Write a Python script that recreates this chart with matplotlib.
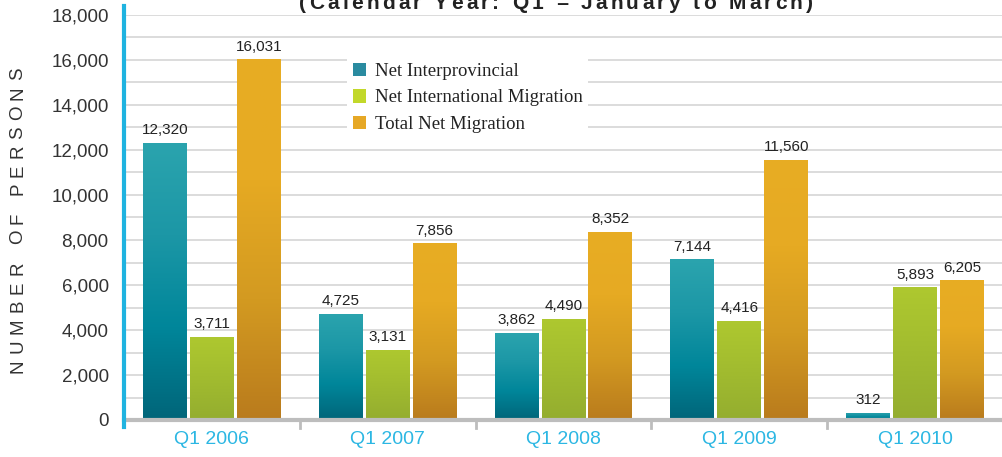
import matplotlib
matplotlib.use("Agg")
import matplotlib.pyplot as plt
import numpy as np
from matplotlib.colors import LinearSegmentedColormap
from matplotlib.patches import Patch
from matplotlib.lines import Line2D

# data
quarters = ["Q1 2006", "Q1 2007", "Q1 2008", "Q1 2009", "Q1 2010"]
interprovincial = [12320, 4725, 3862, 7144, 312]
international = [3711, 3131, 4490, 4416, 5893]
total_net = [16031, 7856, 8352, 11560, 6205]
series_names = ["Net Interprovincial", "Net International Migration", "Total Net Migration"]
title = "(Calendar Year: Q1 = January to March)"
ylabel = "NUMBER OF PERSONS"

# gradient stops (top -> bottom) and legend colours
grad_stops = [
    ["#2ba4ae", "#1c97a6", "#00869a", "#006579"],
    ["#aec830", "#a6c02f", "#9db72f", "#94ad2f"],
    ["#e8ad23", "#e6aa23", "#d39a21", "#b97b1d"],
]
legend_cols = ["#2a8ba0", "#c2d82a", "#e6a826"]

W, H = 1003, 457
fig = plt.figure(figsize=(W / 100, H / 100), dpi=100)
ax = fig.add_axes([124 / W, 37 / H, 1 - 124 / W, 405 / H])


def spaced_text(s, xc, yc, track, rotation=0, **kw):
    # draw text one char at a time with extra tracking (pixels), centred on xc,yc
    r = fig.canvas.get_renderer()
    widths = []
    for ch in s:
        t = fig.text(0, 0, ch if ch != " " else "n", **kw)
        w = t.get_window_extent(r).width
        t.remove()
        widths.append(w * (0.5 if ch == " " else 1.0))
    total = sum(widths) + track * (len(s) - 1)
    pos = -total / 2
    for ch, w in zip(s, widths):
        c = pos + w / 2
        if rotation == 90:
            fig.text(xc / W, 1 - (yc - c) / H, ch, rotation=90, ha="center",
                     va="center", **kw)
        else:
            fig.text((xc + c) / W, 1 - yc / H, ch, ha="center", va="baseline", **kw)
        pos += w + track


x = np.arange(len(quarters))
width = 44 / 176
step = 47 / 176
all_series = [interprovincial, international, total_net]

for i, vals in enumerate(all_series):
    cmap = LinearSegmentedColormap.from_list("g%d" % i, grad_stops[i])
    grad = np.linspace(0, 1, 256).reshape(-1, 1)
    bars = ax.bar(x + (i - 1) * step, vals, width, color="none", edgecolor="none", zorder=3)
    for b, v in zip(bars, vals):
        x0 = b.get_x()
        im = ax.imshow(grad, cmap=cmap, aspect="auto", extent=[x0, x0 + width, 0, v],
                       origin="upper", zorder=3)
        im.set_clip_path(b)
        ax.text(x0 + width / 2, v + 250, f"{v:,}", ha="center", va="bottom",
                fontsize=11, color="#222222", family="Liberation Sans", zorder=4)

ax.set_xlim(-0.5, 4.5)
ax.set_ylim(0, 18000)
ax.set_yticks(np.arange(0, 18001, 2000))
ax.set_yticklabels([f"{v:,}" for v in range(0, 18001, 2000)], fontsize=13.5,
                   color="#333333", family="Liberation Sans")
ax.set_yticks(np.arange(0, 18001, 1000), minor=True)
ax.grid(True, which="both", axis="y", color="#d9d9d9", linewidth=1.3, zorder=0)
ax.tick_params(axis="y", which="both", length=0, pad=11)
ax.set_xticks(x)
ax.set_xticklabels(quarters, fontsize=14, color="#2cb7e3", family="Liberation Sans")
ax.tick_params(axis="x", length=0, pad=8)

for s in ax.spines.values():
    s.set_visible(False)
ax.set_axisbelow(True)

# axis lines
ax.add_line(Line2D([0, 1], [0, 0], transform=ax.transAxes, color="#bdbdbd", lw=3,
                   clip_on=False, zorder=5))
for xs in [0.5, 1.5, 2.5, 3.5]:
    ax.add_line(Line2D([xs, xs], [0, -0.02], transform=ax.get_xaxis_transform(),
                       color="#bdbdbd", lw=2, clip_on=False, zorder=5))
ax.add_line(Line2D([0, 0], [-0.017, 1.022], transform=ax.transAxes, color="#1fb3e0",
                   lw=3, clip_on=False, zorder=6))

# legend
handles = [Patch(facecolor=c, edgecolor="none") for c in legend_cols]
leg = ax.legend(handles, series_names, loc="upper left",
                bbox_to_anchor=(347 / W, 1 - 57 / H), bbox_transform=fig.transFigure,
                prop={"family": "Liberation Serif", "size": 13.5}, frameon=True,
                facecolor="white", edgecolor="none", framealpha=1, fancybox=False,
                handlelength=0.72, handleheight=0.72, handletextpad=0.45,
                labelspacing=0.5, borderpad=0.3, borderaxespad=0)
leg.set_zorder(7)
for t in leg.get_texts():
    t.set_color("#222222")

# y label with letter spacing
spaced_text(ylabel, 18, 220, 6.0, rotation=90, fontsize=13.5, color="#333333",
            family="Liberation Sans")

# title, cut off at top
spaced_text(title, 556, 9, 3.2, fontsize=15, fontweight="bold", color="#222222",
            family="Liberation Sans")

fig.savefig("out.png", dpi=100)
